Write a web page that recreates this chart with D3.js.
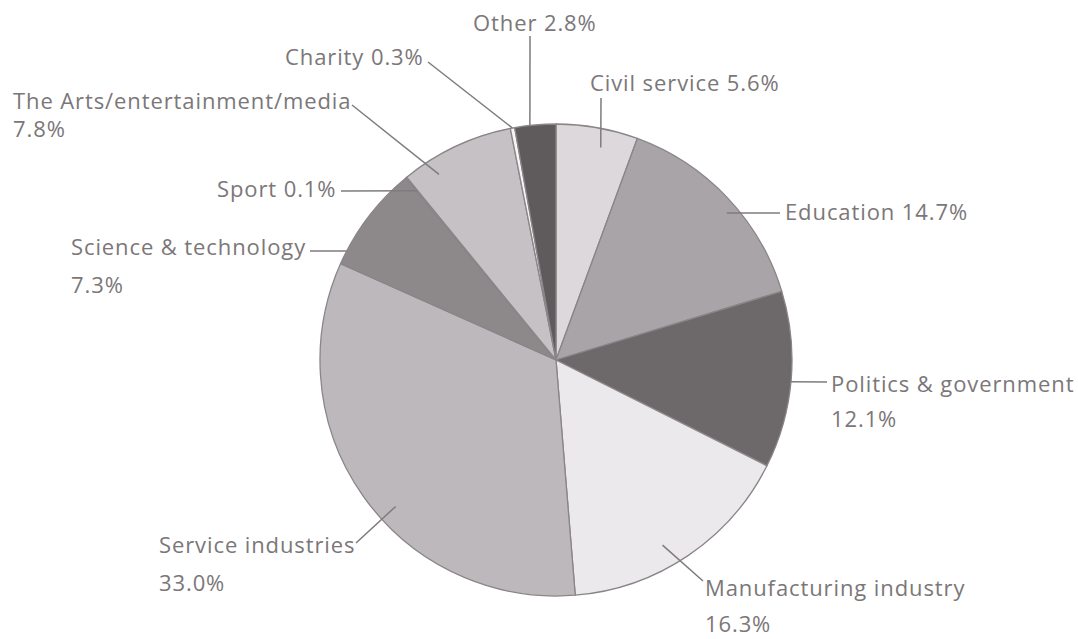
<!DOCTYPE html>
<html>
<head>
<meta charset="utf-8">
<script src="https://cdn.jsdelivr.net/npm/d3@7"></script>
<style>
  html, body { margin: 0; padding: 0; background: #ffffff; }
  svg { display: block; }
</style>
</head>
<body>
<svg id="chart" width="1078" height="639"></svg>
<script>
// ---- data ----
const categories = [
  "Civil service",
  "Education",
  "Politics & government",
  "Manufacturing industry",
  "Service industries",
  "Science & technology",
  "Sport",
  "The Arts/entertainment/media",
  "Charity",
  "Other"
];
const values = [5.6, 14.7, 12.1, 16.3, 33.0, 7.3, 0.1, 7.8, 0.3, 2.8];
const sliceColors = [
  "#dcd8dc", "#a9a4a7", "#6d686a", "#ece9ed", "#bdb8bb",
  "#8d888a", "#9a9597", "#c6c1c4", "#f6f4f5", "#5f5a5c"
];

// ---- layout (label placement, not data) ----
// twoLine: category on first line, percentage on second line
// x,y: first-line baseline start; lh: line gap; end: outer end of leader line
// t: position along slice angle (0..1); rk: radius factor for inner end
const labelLayout = [
  { twoLine: false, x: 590, y: 91,  lh: 0,  end: [601, 98],  t: 0.59, rk: 0.92 },
  { twoLine: false, x: 785, y: 220, lh: 0,  end: [780, 213], t: 0.55, rk: 0.955 },
  { twoLine: true,  x: 831, y: 392, lh: 35, end: [827, 382], t: 0.51, rk: 1.0 },
  { twoLine: true,  x: 705, y: 596, lh: 36, end: [703, 581], t: 0.57, rk: 0.905 },
  { twoLine: true,  x: 159, y: 553, lh: 38, end: [356, 543], t: 0.44, rk: 0.92 },
  { twoLine: true,  x: 71,  y: 255, lh: 38, end: [310, 251], t: 0.13, rk: 1.0 },
  { twoLine: false, x: 217, y: 197, lh: 0,  end: [341, 191], t: 0.5,  rk: 0.928 },
  { twoLine: true,  x: 13,  y: 109, lh: 28, end: [352, 105], t: 0.25, rk: 0.93 },
  { twoLine: false, x: 285, y: 65,  lh: 0,  end: [428, 62],  t: 0.5,  rk: 1.0 },
  { twoLine: false, x: 473, y: 31,  lh: 0,  end: [530, 36],  t: 0.37, rk: 1.0 }
];

const cx = 556, cy = 360, R = 236;
const textColor = "#7b7779";
const lineColor = "#807b7d";
const strokeColor = "#8a8588";

const svg = d3.select("#chart");
const g = svg.append("g").attr("transform", `translate(${cx},${cy})`);

const pie = d3.pie().sort(null).value(d => d.value);
const data = categories.map((c, i) => ({ name: c, value: values[i], color: sliceColors[i], layout: labelLayout[i] }));
const arcs = pie(data);

const arc = d3.arc().innerRadius(0).outerRadius(R);

g.selectAll("path.slice")
  .data(arcs)
  .join("path")
  .attr("class", "slice")
  .attr("d", arc)
  .attr("fill", d => d.data.color)
  .attr("stroke", strokeColor)
  .attr("stroke-width", 1.3)
  .attr("stroke-linejoin", "round");

const fmt = v => d3.format(".1f")(v) + "%";

// leader lines
arcs.forEach(a => {
  const L = a.data.layout;
  const ang = a.startAngle + L.t * (a.endAngle - a.startAngle);
  const r = R * L.rk;
  const ix = cx + r * Math.sin(ang);
  const iy = cy - r * Math.cos(ang);
  svg.append("line")
    .attr("x1", ix).attr("y1", iy)
    .attr("x2", L.end[0]).attr("y2", L.end[1])
    .attr("stroke", lineColor)
    .attr("stroke-width", 1.5);
});

// labels
const labelG = svg.append("g")
  .attr("font-family", "'Open Sans', 'Noto Sans', sans-serif")
  .attr("font-size", 22)
  .attr("letter-spacing", 0.9)
  .attr("fill", textColor);

arcs.forEach(a => {
  const L = a.data.layout;
  const pct = fmt(a.data.value);
  if (L.twoLine) {
    labelG.append("text").attr("x", L.x).attr("y", L.y).text(a.data.name);
    labelG.append("text").attr("x", L.x).attr("y", L.y + L.lh).text(pct);
  } else {
    labelG.append("text").attr("x", L.x).attr("y", L.y).text(a.data.name + " " + pct);
  }
});
</script>
</body>
</html>
